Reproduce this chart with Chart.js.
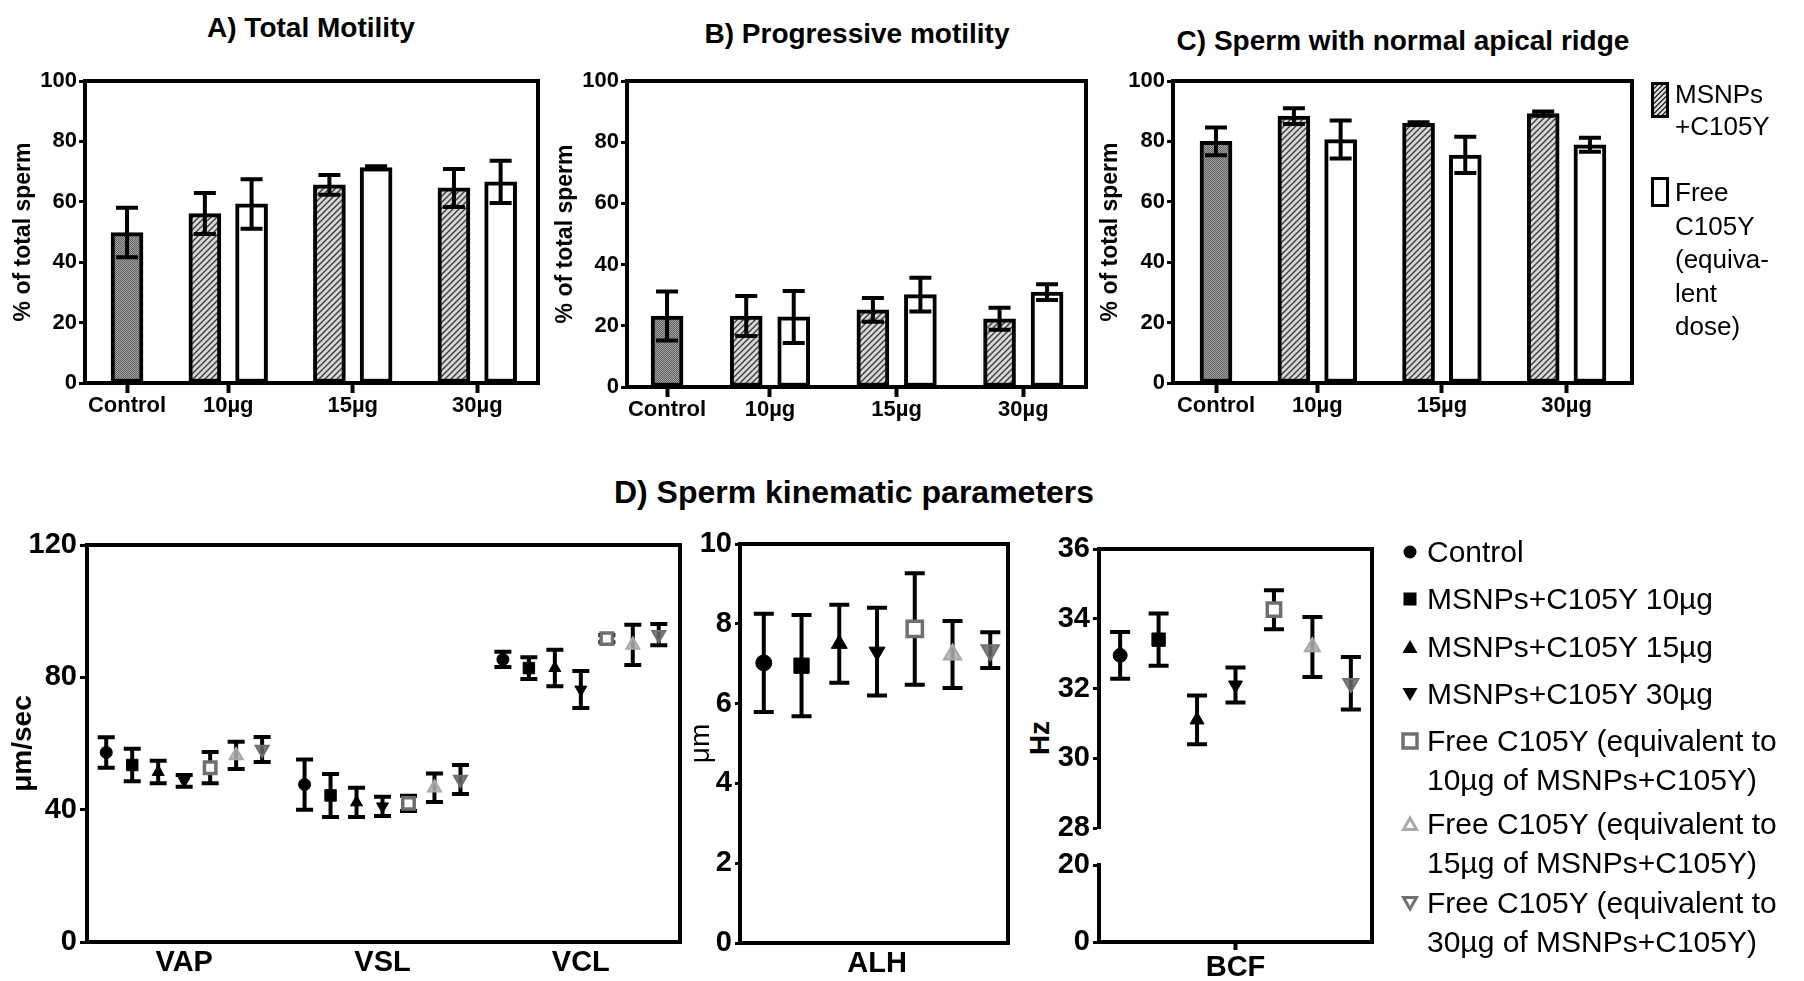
<!DOCTYPE html>
<html>
<head>
<meta charset="utf-8">
<script src="https://cdn.jsdelivr.net/npm/chart.js@4.4.0/dist/chart.umd.min.js"></script>
<style>
  body { margin: 0; background: #fff; width: 1804px; height: 981px; position: relative; overflow: hidden;
         font-family: "Liberation Sans", Arial, Helvetica, sans-serif; color: #000; }
  canvas { position: absolute; }
  .title { position: absolute; font-weight: bold; white-space: nowrap; transform: translate(-50%, -50%); }
  .leg { position: absolute; white-space: nowrap; }
  .box { position: absolute; border: 3px solid #000; box-sizing: border-box; }
  svg.mk { position: absolute; }
</style>
</head>
<body>
<div class="title" style="left:311px;top:28px;font-size:28px">A) Total Motility</div>
<div class="title" style="left:857px;top:34px;font-size:28px">B) Progressive motility</div>
<div class="title" style="left:1403px;top:41px;font-size:28px">C) Sperm with normal apical ridge</div>
<div class="title" style="left:854px;top:492px;font-size:32px">D) Sperm kinematic parameters</div>
<div class="title" style="left:1040px;top:738px;font-size:28px;transform:translate(-50%,-50%) rotate(-90deg)">Hz</div>

<canvas id="chartA" width="560" height="380" style="left:0px;top:50px"></canvas>
<canvas id="chartB" width="560" height="380" style="left:545px;top:50px"></canvas>
<canvas id="chartC" width="560" height="380" style="left:1090px;top:50px"></canvas>
<canvas id="chartVel" width="700" height="481" style="left:0px;top:500px"></canvas>
<canvas id="chartAlh" width="350" height="481" style="left:680px;top:500px"></canvas>
<canvas id="chartBcf" width="390" height="481" style="left:1015px;top:500px"></canvas>

<!-- legend for A-C -->
<div class="box" style="left:1651px;top:82px;width:18px;height:36px;background:repeating-linear-gradient(-45deg,#d6d6d6 0 2px,#3a3a3a 2px 3.5px)"></div>
<div class="leg" style="left:1675px;top:78px;font-size:26px;line-height:32px">MSNPs<br>+C105Y</div>
<div class="box" style="left:1651px;top:177px;width:18px;height:30px;background:#fff"></div>
<div class="leg" style="left:1675px;top:176px;font-size:26px;line-height:33.5px">Free<br>C105Y<br>(equiva-<br>lent<br>dose)</div>

<div id="legendD"></div>

<script>
const FONT = '"Liberation Sans", Arial, Helvetica, sans-serif';
Chart.defaults.font.family = FONT;
Chart.defaults.color = '#000';

// ---- data ----
const groups = ['Control', '10µg', '15µg', '30µg'];

// A) total motility (% of total sperm), mean and error
const totalCtrl = [49.8];
const totalCtrlErr = [8.2];
const totalMsnp = [56.1, 65.6, 64.6];
const totalMsnpErr = [6.8, 3.3, 6.3];
const totalFree = [59.3, 71.3, 66.6];
const totalFreeErr = [8.2, 0.5, 7.0];

// B) progressive motility
const progCtrl = [23.2];
const progCtrlErr = [8.0];
const progMsnp = [23.2, 25.2, 22.3];
const progMsnpErr = [6.5, 3.9, 3.6];
const progFree = [22.9, 30.2, 31.0];
const progFreeErr = [8.5, 5.5, 2.6];

// C) normal apical ridge
const ridgeCtrl = [80.0];
const ridgeCtrlErr = [4.6];
const ridgeMsnp = [88.4, 86.0, 89.2];
const ridgeMsnpErr = [2.6, 0.3, 0.7];
const ridgeFree = [80.6, 75.5, 78.9];
const ridgeFreeErr = [6.3, 6.0, 2.3];

// D) kinematic parameters
const seriesNames = ['Control', 'MSNPs+C105Y 10µg', 'MSNPs+C105Y 15µg', 'MSNPs+C105Y 30µg',
  'Free C105Y (equivalent to 10µg of MSNPs+C105Y)',
  'Free C105Y (equivalent to 15µg of MSNPs+C105Y)',
  'Free C105Y (equivalent to 30µg of MSNPs+C105Y)'];
const velocityParams = ['VAP', 'VSL', 'VCL'];
const vapMean = [57.3, 53.5, 51.4, 48.7, 52.7, 56.4, 58.2];
const vapErr = [4.6, 4.9, 3.4, 1.8, 4.7, 4.1, 3.8];
const vslMean = [47.6, 44.3, 42.2, 41.0, 41.9, 46.6, 49.1];
const vslErr = [7.6, 6.5, 4.4, 2.9, 2.3, 4.3, 4.4];
const vclMean = [85.4, 82.8, 82.8, 76.3, 91.7, 89.8, 92.9];
const vclErr = [2.3, 3.3, 5.5, 5.6, 1.1, 6.1, 3.2];
const alhMean = [7.02, 6.95, 7.5, 7.3, 7.87, 7.23, 7.34];
const alhErr = [1.23, 1.27, 0.98, 1.1, 1.4, 0.84, 0.45];
const bcfMean = [32.95, 33.4, 31.1, 32.1, 34.26, 33.19, 32.15];
const bcfErr = [0.67, 0.75, 0.7, 0.5, 0.56, 0.86, 0.75];

// ---- fill patterns ----
function hatchPattern() {
  const c = document.createElement('canvas');
  c.width = 6; c.height = 6;
  const g = c.getContext('2d');
  g.fillStyle = '#d8d8d8';
  g.fillRect(0, 0, 6, 6);
  g.strokeStyle = '#3c3c3c';
  g.lineWidth = 1.4;
  g.beginPath();
  g.moveTo(-3, 3); g.lineTo(3, -3);
  g.moveTo(0, 6); g.lineTo(6, 0);
  g.moveTo(3, 9); g.lineTo(9, 3);
  g.stroke();
  return g.createPattern(c, 'repeat');
}
function dotPattern() {
  const c = document.createElement('canvas');
  c.width = 2; c.height = 2;
  const g = c.getContext('2d');
  g.fillStyle = '#a2a2a2'; g.fillRect(0, 0, 2, 2);
  g.fillStyle = '#626262'; g.fillRect(0, 0, 1, 1); g.fillRect(1, 1, 1, 1);
  return g.createPattern(c, 'repeat');
}
const hatch = hatchPattern();
const dots = dotPattern();

// ---- plugins ----
function drawErrors(chart, opts) {
  const ctx = chart.ctx;
  ctx.save();
  ctx.strokeStyle = '#000';
  ctx.lineWidth = opts.width;
  chart.data.datasets.forEach((ds, i) => {
    const meta = chart.getDatasetMeta(i);
    const ys = chart.scales[meta.yAxisID];
    meta.data.forEach((el, j) => {
      const v = ds.data[j].y, e = ds.errors[j];
      const x = el.x;
      const hi = ys.getPixelForValue(v + e), lo = ys.getPixelForValue(v - e);
      ctx.beginPath();
      ctx.moveTo(x, hi); ctx.lineTo(x, lo);
      ctx.moveTo(x - opts.cap, hi); ctx.lineTo(x + opts.cap, hi);
      ctx.moveTo(x - opts.cap, lo); ctx.lineTo(x + opts.cap, lo);
      ctx.stroke();
    });
  });
  ctx.restore();
}
const errorBarPlugin = {
  id: 'errorBars',
  beforeDatasetsDraw(chart, args, opts) { if (opts.under) drawErrors(chart, opts); },
  afterDatasetsDraw(chart, args, opts) { if (!opts.under) drawErrors(chart, opts); }
};
const framePlugin = {
  id: 'frame',
  afterDraw(chart) {
    const {left, top, right, bottom} = chart.chartArea;
    const ctx = chart.ctx;
    ctx.save();
    ctx.strokeStyle = '#000';
    ctx.lineWidth = 4;
    ctx.lineCap = 'square';
    ctx.beginPath();
    ctx.moveTo(left, top); ctx.lineTo(right, top); ctx.lineTo(right, bottom);
    ctx.stroke();
    ctx.restore();
  }
};

// ---- bar panels A-C ----
function barPanel(cfg) {
  const b = cfg.box, a = cfg.area;
  const yW = a.l - b.x, xH = b.y + b.h - a.b;
  const pos = [0, 6.5, 14.5, 22.5];
  new Chart(document.getElementById(cfg.id), {
    type: 'bar',
    data: {
      datasets: [
        { data: cfg.ctrl.map(v => ({x: pos[0], y: v})), errors: cfg.ctrlErr, backgroundColor: dots },
        { data: cfg.msnp.map((v, i) => ({x: pos[i + 1] - 1.5, y: v})), errors: cfg.msnpErr, backgroundColor: hatch },
        { data: cfg.free.map((v, i) => ({x: pos[i + 1] + 1.5, y: v})), errors: cfg.freeErr, backgroundColor: '#fff' }
      ]
    },
    options: {
      responsive: false,
      animation: false,
      events: [],
      layout: { padding: { left: 0, top: a.t - b.y, right: b.x + b.w - a.r, bottom: 0 } },
      datasets: { bar: { grouped: false, barThickness: 32, borderWidth: 4, borderColor: '#000', borderSkipped: false } },
      plugins: {
        legend: { display: false },
        tooltip: { enabled: false },
        errorBars: { cap: 11, width: 4, under: false }
      },
      scales: {
        x: {
          type: 'linear', min: cfg.xMin, max: cfg.xMax, offset: false,
          afterBuildTicks: s => { s.ticks = pos.map(v => ({value: v})); },
          afterFit: s => { s.height = xH; },
          ticks: { callback: (v, i) => groups[i], autoSkip: false, maxRotation: 0, padding: 0,
                   font: { size: 22, weight: 'bold' }, color: '#000' },
          grid: { drawOnChartArea: false, offset: false, tickLength: 10, tickWidth: 4, color: '#000' },
          border: { width: 4, color: '#000' }
        },
        y: {
          min: 0, max: 100,
          afterFit: s => { s.width = yW; },
          ticks: { stepSize: 20, padding: 2, font: { size: 22, weight: 'bold' }, color: '#000' },
          grid: { drawOnChartArea: false, tickLength: 6, tickWidth: 3, color: '#000' },
          border: { width: 4, color: '#000' },
          title: { display: true, text: '% of total sperm', color: '#000',
                   font: { size: 23, weight: 'bold' }, padding: { top: cfg.titlePad, bottom: 0 } }
        }
      }
    },
    plugins: [errorBarPlugin, framePlugin]
  });
}

barPanel({ id: 'chartA', box: {x: 0, y: 50, w: 560, h: 380}, area: {l: 85, t: 81, r: 538, b: 383},
  xMin: -2.7, xMax: 26.4, titlePad: 10,
  ctrl: totalCtrl, ctrlErr: totalCtrlErr, msnp: totalMsnp, msnpErr: totalMsnpErr, free: totalFree, freeErr: totalFreeErr });
barPanel({ id: 'chartB', box: {x: 545, y: 50, w: 560, h: 380}, area: {l: 627, t: 81, r: 1086, b: 387},
  xMin: -2.53, xMax: 26.46, titlePad: 7,
  ctrl: progCtrl, ctrlErr: progCtrlErr, msnp: progMsnp, msnpErr: progMsnpErr, free: progFree, freeErr: progFreeErr });
barPanel({ id: 'chartC', box: {x: 1090, y: 50, w: 560, h: 380}, area: {l: 1173, t: 81, r: 1632, b: 383},
  xMin: -2.76, xMax: 26.7, titlePad: 7,
  ctrl: ridgeCtrl, ctrlErr: ridgeCtrlErr, msnp: ridgeMsnp, msnpErr: ridgeMsnpErr, free: ridgeFree, freeErr: ridgeFreeErr });

// ---- kinematic panels D ----
const marks = [
  { style: 'circle',   rot: 0,   fill: '#000', line: '#000', bw: 1, k: 1 },
  { style: 'rect',     rot: 0,   fill: '#000', line: '#000', bw: 1, k: 1.35 },
  { style: 'triangle', rot: 0,   fill: '#000', line: '#000', bw: 1, k: 1.15 },
  { style: 'triangle', rot: 180, fill: '#000', line: '#000', bw: 1, k: 1.15 },
  { style: 'rect',     rot: 0,   fill: '#fff', line: '#6f6f6f', bw: 3.5, k: 1.35 },
  { style: 'triangle', rot: 0,   fill: 'rgba(175,175,175,0.85)', line: '#a9a9a9', bw: 2, k: 1.25 },
  { style: 'triangle', rot: 180, fill: 'rgba(105,105,105,0.85)', line: '#6f6f6f', bw: 2, k: 1.25 }
];
const tickFontD = { size: 29, weight: 'bold' };

function kinPanel(cfg) {
  const b = cfg.box, a = cfg.area;
  const yW = a.l - b.x, xH = b.y + b.h - a.b;
  const datasets = seriesNames.map((name, k) => ({
    label: name,
    data: cfg.means.map((m, c) => ({x: c + (k - 3) * cfg.step, y: m[k]})),
    errors: cfg.errs.map(e => e[k]),
    yAxisID: cfg.yId,
    pointStyle: marks[k].style,
    pointRotation: marks[k].rot,
    pointRadius: cfg.r * marks[k].k,
    pointBackgroundColor: marks[k].fill,
    pointBorderColor: marks[k].line,
    pointBorderWidth: marks[k].bw
  }));
  const scales = {
    x: {
      type: 'linear', min: cfg.xMin, max: cfg.xMax,
      afterBuildTicks: s => { s.ticks = cfg.cats.map((c, i) => ({value: i})); },
      afterFit: s => { s.height = xH; },
      ticks: { callback: (v, i) => cfg.cats[i], autoSkip: false, maxRotation: 0,
               padding: cfg.xTick ? 1 : 4, font: tickFontD, color: '#000' },
      grid: { drawOnChartArea: false, drawTicks: cfg.xTick, tickLength: 8, tickWidth: 4, color: '#000' },
      border: { width: 4, color: '#000' }
    }
  };
  cfg.yScales.forEach(ys => {
    scales[ys.id] = Object.assign({
      type: 'linear', position: 'left',
      afterFit: s => { s.width = yW; },
      grid: { drawOnChartArea: false, tickLength: cfg.yTickLen, tickWidth: 3, color: '#000' },
      border: { width: 4, color: '#000' }
    }, ys.opts);
  });
  new Chart(document.getElementById(cfg.id), {
    type: 'scatter',
    data: { datasets },
    options: {
      responsive: false,
      animation: false,
      events: [],
      layout: { padding: { left: 0, top: a.t - b.y, right: b.x + b.w - a.r, bottom: 0 } },
      plugins: {
        legend: { display: false },
        tooltip: { enabled: false },
        errorBars: { cap: cfg.cap, width: 4, under: true }
      },
      scales
    },
    plugins: [errorBarPlugin, framePlugin]
  });
}

kinPanel({
  id: 'chartVel', box: {x: 0, y: 500, w: 700, h: 481}, area: {l: 87, t: 545, r: 680, b: 942},
  cats: velocityParams, means: [vapMean, vslMean, vclMean], errs: [vapErr, vslErr, vclErr],
  step: 0.131, xMin: -0.49, xMax: 2.5, xTick: false, r: 6, cap: 8.5, yId: 'y', yTickLen: 7,
  yScales: [{ id: 'y', opts: {
    min: 0, max: 120,
    ticks: { stepSize: 40, padding: 3, font: tickFontD, color: '#000' },
    title: { display: true, text: 'μm/sec', color: '#000', font: { size: 28, weight: 'bold' }, padding: { top: 6, bottom: 0 } }
  }}]
});

kinPanel({
  id: 'chartAlh', box: {x: 680, y: 500, w: 350, h: 481}, area: {l: 740, t: 544, r: 1008, b: 943},
  cats: ['ALH'], means: [alhMean], errs: [alhErr],
  step: 1, xMin: -3.63, xMax: 3.47, xTick: false, r: 8, cap: 10, yId: 'y', yTickLen: 5,
  yScales: [{ id: 'y', opts: {
    min: 0, max: 10,
    ticks: { stepSize: 2, padding: 3, font: tickFontD, color: '#000' },
    title: { display: true, text: 'μm', color: '#000', font: { size: 28, weight: 'normal' }, padding: { top: 4, bottom: 0 } }
  }}]
});

// BCF has a broken axis: two stacked scales with an empty spacer between them
kinPanel({
  id: 'chartBcf', box: {x: 1015, y: 500, w: 390, h: 481}, area: {l: 1099, t: 549, r: 1372, b: 942},
  cats: ['BCF'], means: [bcfMean], errs: [bcfErr],
  step: 1, xMin: -3.55, xMax: 3.55, xTick: true, r: 7, cap: 10, yId: 'yTop', yTickLen: 6,
  yScales: [
    { id: 'yBot', opts: { stack: 'bcf', stackWeight: 77, min: 0, max: 20,
      ticks: { stepSize: 20, padding: 3, font: tickFontD, color: '#000' } } },
    { id: 'yGap', opts: { stack: 'bcf', stackWeight: 37, min: 0, max: 1,
      ticks: { display: false }, grid: { display: false }, border: { display: false } } },
    { id: 'yTop', opts: { stack: 'bcf', stackWeight: 279, min: 28, max: 36,
      ticks: { stepSize: 2, padding: 3, font: tickFontD, color: '#000' } } }
  ]
});

// ---- legend for D ----
const legendTops = [552, 599, 647, 694, 741, 824, 903];
const markerSvg = [
  '<circle cx="10" cy="10" r="6.5" fill="#000"/>',
  '<rect x="3.5" y="3.5" width="13" height="13" fill="#000"/>',
  '<polygon points="10,3 17.5,16 2.5,16" fill="#000"/>',
  '<polygon points="2.5,4 17.5,4 10,17" fill="#000"/>',
  '<rect x="3" y="3" width="14" height="14" fill="#fff" stroke="#707070" stroke-width="3.5"/>',
  '<polygon points="10,4 16.5,15.5 3.5,15.5" fill="#fff" stroke="#aaaaaa" stroke-width="3"/>',
  '<polygon points="3.5,4.5 16.5,4.5 10,16" fill="#fff" stroke="#707070" stroke-width="3"/>'
];
const legendD = document.getElementById('legendD');
seriesNames.forEach((name, k) => {
  const cy = legendTops[k];
  const cut = name.indexOf(' to ');
  const text = cut > 0 ? name.slice(0, cut + 3) + '<br>' + name.slice(cut + 4) : name;
  legendD.insertAdjacentHTML('beforeend',
    '<svg class="mk" width="20" height="20" style="left:1400px;top:' + (cy - 10) + 'px">' + markerSvg[k] + '</svg>' +
    '<div class="leg" style="left:1427px;top:' + (cy - 20) + 'px;font-size:30px;line-height:39px">' + text + '</div>');
});
</script>
</body>
</html>
